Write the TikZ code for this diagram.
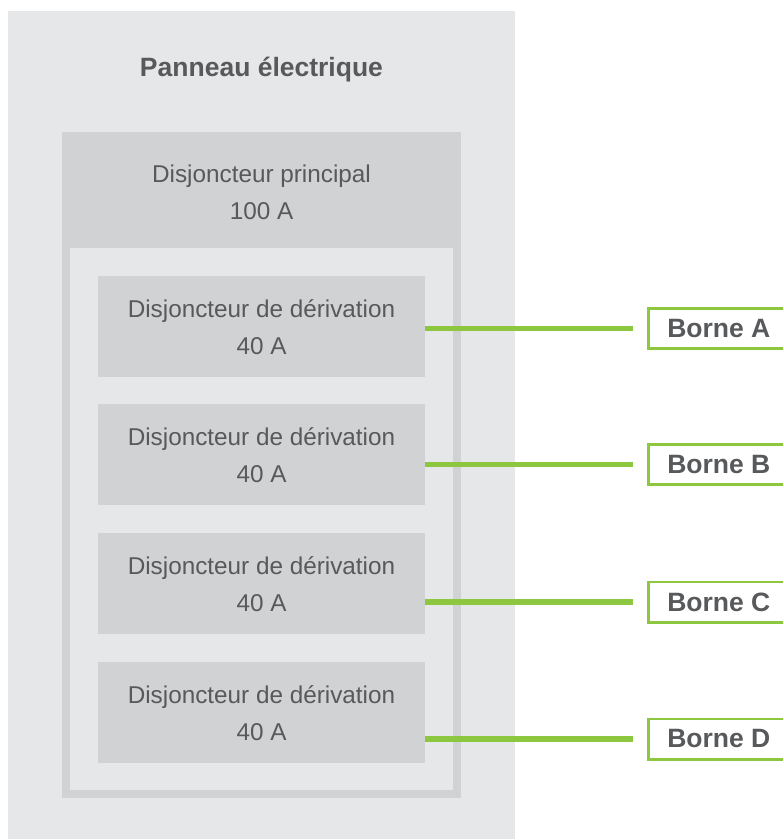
\documentclass[tikz,border=0pt]{standalone}
\usepackage{fontspec}
\setmainfont{Liberation Sans}
\definecolor{panelbg}{HTML}{E6E7E9}
\definecolor{boxgray}{HTML}{D1D2D4}
\definecolor{txtgray}{HTML}{58595B}
\definecolor{wire}{HTML}{8DC63F}
\begin{document}
\begin{tikzpicture}[x=1pt,y=-1pt,
  blockbox/.style={fill=boxgray, draw=none, inner sep=0pt, outer sep=0pt, anchor=north west},
  lbl/.style={anchor=base, text=txtgray, font=\fontsize{24.3}{29}\selectfont, inner sep=0pt},
  ttl/.style={anchor=base, text=txtgray, font=\bfseries\fontsize{26.5}{32}\selectfont, inner sep=0pt},
  borne/.style={draw=wire, line width=2.6pt, fill=white, minimum width=141pt, minimum height=40.4pt,
                anchor=west, inner sep=0pt, text=txtgray, font=\bfseries\fontsize{26.5}{32}\selectfont},
  wirestyle/.style={draw=wire, line width=5.3pt}]
\useasboundingbox (0,0) rectangle (783,839);
\fill[white] (0,0) rectangle (783,839);
% panel
\fill[panelbg] (8,11) rectangle (515,839);
\node[ttl] (title) at (261.5,76) {Panneau électrique};
% main breaker frame
\fill[boxgray] (62,132) rectangle (461,798);
\fill[panelbg] (70,248) rectangle (453,790);
\node[blockbox, minimum width=399pt, minimum height=116pt] (main) at (62,132) {};
\node[lbl] (mainA) at (261.5,182) {Disjoncteur principal};
\node[lbl] (mainB) at (261.5,219) {100 A};
% branch breakers
\foreach \i/\t in {1/276, 2/404, 3/533, 4/662}{
  \node[blockbox, minimum width=327pt, minimum height=101pt] (b\i) at (98,\t) {};
  \node[lbl] (b\i a) at (261.5,\t+41) {Disjoncteur de dérivation};
  \node[lbl] (b\i b) at (261.5,\t+78) {40 A};
}
% terminals
\node[borne] (t1) at (647,328.5) {Borne A};
\node[borne] (t2) at (647,464.5) {Borne B};
\node[borne] (t3) at (647,602) {Borne C};
\node[borne] (t4) at (647,739) {Borne D};
% wires
\foreach \i in {1,2,3,4}{
  \draw[wirestyle] (b\i.east |- t\i.west) -- ([xshift=-14pt]t\i.west);
}
\end{tikzpicture}
\end{document}
